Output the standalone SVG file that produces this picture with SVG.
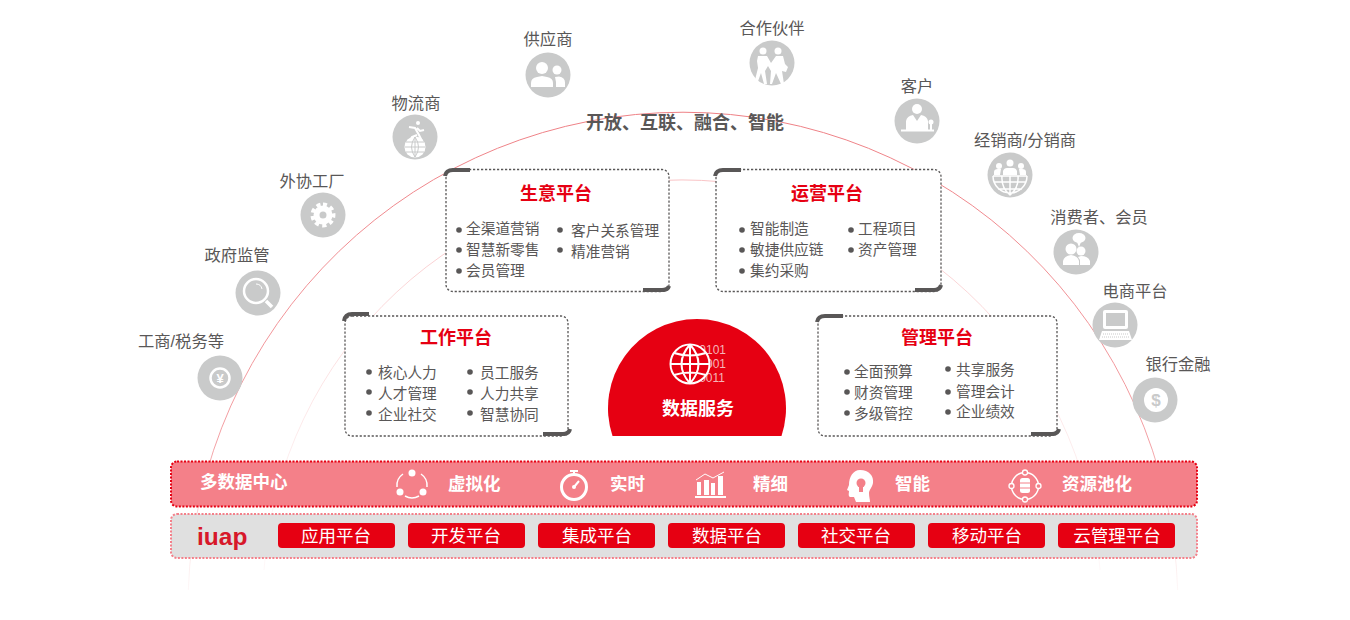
<svg xmlns="http://www.w3.org/2000/svg" width="1350" height="620" viewBox="0 0 1350 620">
<style>
text{font-family:"Liberation Sans","Noto Sans CJK SC",sans-serif}
.lbl{font-size:16.3px;fill:#595757;text-anchor:middle}
.it{font-size:14.7px;fill:#595757}
.hd{font-size:18px;font-weight:700;fill:#e60012;text-anchor:middle}
.bt{font-size:17.5px;font-weight:700;fill:#fff}
.pf{font-size:17.5px;fill:#fff;text-anchor:middle}
.dis{fill:#c9caca}
.ic{fill:#fff}
.ln{fill:none;stroke:#fff}
.box{fill:#fff;stroke:#595757;stroke-width:1.3;stroke-dasharray:2.2 1.8}
.br{fill:none;stroke:#595757;stroke-width:4}
.dot{fill:#595757}
.btn{fill:#e60012}
.bin{font-size:12px;fill:#f5b5b8;text-anchor:end}
</style>
<defs>
<linearGradient id="ga" gradientUnits="userSpaceOnUse" x1="0" y1="112" x2="0" y2="590"><stop offset="0" stop-color="#ee8085"/><stop offset="0.7" stop-color="#f3a0a4"/><stop offset="1" stop-color="#f8d8d9" stop-opacity="0.2"/></linearGradient>
<linearGradient id="gb" gradientUnits="userSpaceOnUse" x1="0" y1="188" x2="0" y2="590"><stop offset="0" stop-color="#f9c4c6"/><stop offset="1" stop-color="#fbe4e5" stop-opacity="0.2"/></linearGradient>
</defs>
<g id="connectors">
<path d="M188.300 590A495 495 0 0 1 1177.700 590" fill="none" stroke="url(#ga)" stroke-width="1"/>
<path d="M264 570A419 419 0 0 1 1100 570" fill="none" stroke="url(#gb)" stroke-width="1"/>
</g>
<text x="685" y="129" font-size="18" font-weight="700" fill="#595757" text-anchor="middle">开放、互联、融合、智能</text>

<g id="node-supplier"><text class="lbl" x="548" y="45">供应商</text><circle class="dis" cx="548" cy="75" r="22.5"/>
<circle class="ic" cx="542" cy="68" r="6"/><path class="ic" d="M531 87v-4q0-5 6-6l5-1 5 1q6 1 6 6v4z"/><circle class="ic" cx="557" cy="70" r="4.5"/><path class="ic" d="M555 77l4-.5q6 1 6 6v4.500h-9v-5z"/></g>

<g id="node-partner"><text class="lbl" x="772" y="34">合作伙伴</text><circle class="dis" cx="772" cy="63" r="22.5"/>
<circle class="ic" cx="763" cy="51" r="3.5"/><circle class="ic" cx="778" cy="51" r="3.5"/><path class="ic" d="M758 56h9l4 7 5-7h7l2 8 3 3-2 5-4-1 2 13h-3l-5-11-4 11h-2l1-13-3-5-3 5 2 13h-3l-3-11-4 11h-3l4-16-1-7z"/></g>

<g id="node-customer"><text class="lbl" x="917" y="92">客户</text><circle class="dis" cx="917" cy="121" r="22.5"/>
<circle class="ic" cx="917" cy="109" r="5"/><path class="ic" d="M906 130v-9q1-5 7-6l4 6 4-6q6 1 7 6v9z"/><rect class="ic" x="901" y="129.500" width="33" height="2"/><circle class="ic" cx="931" cy="122" r="2.500"/><rect class="ic" x="930" y="124" width="2" height="6"/></g>

<g id="node-distributor"><text class="lbl" x="1025" y="146">经销商/分销商</text><circle class="dis" cx="1010" cy="175" r="22.5"/>
<circle class="ic" cx="1010" cy="163" r="3.500"/><circle class="ic" cx="999" cy="166" r="3"/><circle class="ic" cx="1021" cy="166" r="3"/><path class="ic" d="M1003 175v-4q1-3 4-3h6q3 0 4 3v4zM994 175v-3q0-3 4-3h3l-1 6zM1026 175v-3q0-3-4-3h-3l1 6z"/><path class="ln" stroke-width="1.500" d="M993 176h34M994 182h32M998 189h24M1010 176v19M993 176a17 17 0 0 0 34 0M1002 176q-1 12 8 19q9-7 8-19"/></g>

<g id="node-consumer"><text class="lbl" x="1099" y="223">消费者、会员</text><circle class="dis" cx="1076" cy="252" r="22.5"/>
<ellipse class="ic" cx="1079" cy="238" rx="6.500" ry="5"/><path class="ic" d="M1077 242l2 5 2-5z"/><circle class="ic" cx="1071" cy="249" r="5.500"/><circle class="ic" cx="1081" cy="251" r="4.500"/><path class="ic" d="M1063 265v-4q1-5 8-6 7 1 8 6v4zM1080 265v-5l-2-3 3-1q7 0 9 5v4z"/></g>

<g id="node-ecommerce"><text class="lbl" x="1135" y="297">电商平台</text><circle class="dis" cx="1115" cy="325" r="22.5"/>
<rect class="ic" x="1103" y="310" width="25" height="19" rx="2"/><rect class="dis" x="1106" y="313" width="19" height="13"/><path class="ic" d="M1102 331h27l3 9h-33z"/><path d="M1103 334h25M1102 337h27" stroke="#c9caca" stroke-width="1" stroke-dasharray="1 1"/></g>

<g id="node-bank"><text class="lbl" x="1178" y="370">银行金融</text><circle class="dis" cx="1155" cy="400" r="22.5"/>
<circle class="ic" cx="1156" cy="400" r="12"/><text x="1156" y="406" font-size="17" font-weight="700" fill="#c9caca" text-anchor="middle">$</text></g>

<g id="node-logistics"><text class="lbl" x="416" y="109">物流商</text><circle class="dis" cx="415" cy="137" r="22.5"/>
<circle class="ic" cx="418" cy="123" r="2"/><path class="ln" stroke-width="2" d="M409 127l6 1 4 7 3 6M417 128l3 3 4-1M417 135l-5 2-1 3"/><circle class="ic" cx="415" cy="147" r="10.500"/><path fill="none" stroke="#c9caca" stroke-width="1" d="M405 147h20M406 142h18M406 152h18M415 137v20M415 137q-7 10 0 20M415 137q7 10 0 20"/></g>

<g id="node-factory"><text class="lbl" x="312" y="187">外协工厂</text><circle class="dis" cx="323" cy="215" r="22.5"/>
<circle class="ln" cx="323" cy="215" r="6.500" stroke-width="6"/><path class="ln" stroke-width="4" stroke-dasharray="4 3.330" d="M323 204.500a10.500 10.500 0 1 1-.01 0"/></g>

<g id="node-gov"><text class="lbl" x="237" y="261">政府监管</text><circle class="dis" cx="258" cy="293" r="22.5"/>
<circle class="ln" cx="256" cy="291" r="12" stroke-width="2.500"/><path class="ln" stroke-width="3.500" d="M266 301l6 6"/><path class="ln" stroke-width="1" d="M256 284q5 0 6 5"/></g>

<g id="node-tax"><text class="lbl" x="181" y="347">工商/税务等</text><circle class="dis" cx="220" cy="378" r="22.5"/>
<circle class="ln" cx="220" cy="378" r="9.500" stroke-width="2.500"/><text x="220" y="383" font-size="13" font-weight="700" fill="#fff" text-anchor="middle">¥</text></g>

<g id="node-biz">
<rect class="box" x="446" y="169.500" width="223" height="122" rx="7"/>
<path class="br" d="M445 176q1-6 8-6h17M669 286q-1 4-7 4h-19"/>
<text class="hd" x="556" y="200">生意平台</text>
<circle class="dot" cx="459" cy="230" r="2.800"/><circle class="dot" cx="459" cy="250" r="2.800"/><circle class="dot" cx="459" cy="271" r="2.800"/><circle class="dot" cx="560" cy="230" r="2.800"/><circle class="dot" cx="560" cy="250" r="2.800"/>
<text class="it" x="466" y="234">全渠道营销</text><text class="it" x="466" y="255">智慧新零售</text><text class="it" x="466" y="276">会员管理</text><text class="it" x="571" y="236">客户关系管理</text><text class="it" x="571" y="257">精准营销</text>
</g>

<g id="node-ops">
<rect class="box" x="716" y="169.500" width="225" height="122" rx="7"/>
<path class="br" d="M715 176q1-6 8-6h18M941 285q-1 5-7 5h-19"/>
<text class="hd" x="827" y="200">运营平台</text>
<circle class="dot" cx="742" cy="230" r="2.800"/><circle class="dot" cx="742" cy="250" r="2.800"/><circle class="dot" cx="742" cy="271" r="2.800"/><circle class="dot" cx="851" cy="230" r="2.800"/><circle class="dot" cx="851" cy="250" r="2.800"/>
<text class="it" x="750" y="234">智能制造</text><text class="it" x="750" y="255">敏捷供应链</text><text class="it" x="750" y="276">集约采购</text><text class="it" x="858" y="234">工程项目</text><text class="it" x="858" y="255">资产管理</text>
</g>

<g id="node-work">
<rect class="box" x="345" y="316" width="223" height="120" rx="7"/>
<path class="br" d="M344 321q1-7 8-7h17M570 429q-1 5-7 5h-20"/>
<text class="hd" x="456" y="344">工作平台</text>
<circle class="dot" cx="369" cy="372" r="2.800"/><circle class="dot" cx="369" cy="392" r="2.800"/><circle class="dot" cx="369" cy="413" r="2.800"/><circle class="dot" cx="470" cy="372" r="2.800"/><circle class="dot" cx="470" cy="392" r="2.800"/><circle class="dot" cx="470" cy="413" r="2.800"/>
<text class="it" x="378" y="378">核心人力</text><text class="it" x="378" y="399">人才管理</text><text class="it" x="378" y="420">企业社交</text><text class="it" x="480" y="378">员工服务</text><text class="it" x="480" y="399">人力共享</text><text class="it" x="480" y="420">智慧协同</text>
</g>

<g id="node-mgmt">
<rect class="box" x="818" y="316" width="239" height="120" rx="7"/>
<path class="br" d="M817 322q1-6 8-6h18M1059 429q-1 5-7 5h-21"/>
<text class="hd" x="937" y="344">管理平台</text>
<circle class="dot" cx="847" cy="372" r="2.800"/><circle class="dot" cx="847" cy="392" r="2.800"/><circle class="dot" cx="847" cy="413" r="2.800"/><circle class="dot" cx="948" cy="369" r="2.800"/><circle class="dot" cx="948" cy="392" r="2.800"/><circle class="dot" cx="948" cy="412" r="2.800"/>
<text class="it" x="854" y="377">全面预算</text><text class="it" x="854" y="398">财资管理</text><text class="it" x="854" y="419">多级管控</text><text class="it" x="956" y="375">共享服务</text><text class="it" x="956" y="397">管理会计</text><text class="it" x="956" y="417">企业绩效</text>
</g>

<g id="node-data">
<path fill="#e60012" d="M612.500 436A89 89 0 1 1 781.500 436Z"/>
<text class="bin" x="726" y="354">0101</text><text class="bin" x="726" y="368">1001</text><text class="bin" x="725" y="382">0011</text>
<circle cx="690" cy="364" r="19.500" fill="#e60012" stroke="#fff" stroke-width="2"/>
<path class="ln" stroke-width="2" d="M690 344.500v39M670.500 364h39M674 353q16 5 32 0M674 375q16-5 32 0M690 344.500q-17 19.500 0 39M690 344.500q17 19.500 0 39"/>
<text x="698" y="415" font-size="18" font-weight="700" fill="#fff" text-anchor="middle">数据服务</text>
</g>

<g id="node-multidata">
<rect x="171" y="461.500" width="1026" height="45" rx="6" fill="#f48089" stroke="#e60012" stroke-width="2" stroke-dasharray="2 1.500"/>
<text class="bt" x="200" y="488">多数据中心</text>
<text class="bt" x="448" y="490">虚拟化</text><text class="bt" x="610" y="490">实时</text><text class="bt" x="753" y="490">精细</text><text class="bt" x="895" y="490">智能</text><text class="bt" x="1062" y="490">资源池化</text>
<path class="ln" stroke-width="1.500" d="M403 474a14 14 0 0 0-6 13M405 496a14 14 0 0 0 14 0M421 474a14 14 0 0 1 6 13"/>
<circle class="ic" cx="412" cy="473" r="3.500"/><circle class="ic" cx="400" cy="492" r="3.500"/><circle class="ic" cx="423" cy="492" r="3.500"/>
<circle class="ln" cx="574" cy="487" r="12.500" stroke-width="3"/><path class="ln" stroke-width="2" d="M570 471h8M574 471v4M574 487l5-6"/><circle class="ic" cx="574" cy="487" r="2"/>
<path class="ic" d="M695 496h31v2h-31zM697 482h4v13h-4zM704 480h5v15h-5zM711 483h4v12h-4zM718 476h5v19h-5z"/><path class="ln" stroke-width="1" d="M696 480l9-6 8 4 11-6"/>
<path class="ic" d="M860 470c9 0 14 6 13 13-1 5-4 7-4 10 0 4 1 6 1 9h-14l-2-5h-4c-2-1-1-4-1-6l-2-1 2-5c0-8 4-15 11-15z"/><circle cx="861" cy="483" r="4.500" fill="#f48089"/><rect x="859" y="487" width="4" height="5" fill="#f48089"/>
<circle class="ln" cx="1025" cy="486" r="13.500" stroke-width="1.500"/><circle cx="1025" cy="472.500" r="2.500" fill="#f48089" stroke="#fff" stroke-width="1.300"/><circle cx="1025" cy="499.500" r="2.500" fill="#f48089" stroke="#fff" stroke-width="1.300"/><circle cx="1011.500" cy="486" r="2.500" fill="#f48089" stroke="#fff" stroke-width="1.300"/><circle cx="1038.500" cy="486" r="2.500" fill="#f48089" stroke="#fff" stroke-width="1.300"/>
<rect class="ic" x="1020" y="478" width="10" height="15" rx="2.500"/><path d="M1020 483h10M1020 488h10" stroke="#f48089" stroke-width="1"/>
</g>

<g id="node-iuap">
<rect x="171" y="514" width="1026" height="44" rx="6" fill="#e0e0e0" stroke="#f4808a" stroke-width="2" stroke-dasharray="2 1.500"/>
<text x="197" y="545" font-size="24.500" font-weight="700" fill="#d7182a">iuap</text>
<rect class="btn" x="278" y="523" width="117" height="25" rx="4"/><text class="pf" x="336" y="542">应用平台</text>
<rect class="btn" x="408" y="523" width="117" height="25" rx="4"/><text class="pf" x="466" y="542">开发平台</text>
<rect class="btn" x="538" y="523" width="117" height="25" rx="4"/><text class="pf" x="597" y="542">集成平台</text>
<rect class="btn" x="668" y="523" width="117" height="25" rx="4"/><text class="pf" x="727" y="542">数据平台</text>
<rect class="btn" x="798" y="523" width="117" height="25" rx="4"/><text class="pf" x="856" y="542">社交平台</text>
<rect class="btn" x="928" y="523" width="117" height="25" rx="4"/><text class="pf" x="987" y="542">移动平台</text>
<rect class="btn" x="1058" y="523" width="117" height="25" rx="4"/><text class="pf" x="1117" y="542">云管理平台</text>
</g>
</svg>
